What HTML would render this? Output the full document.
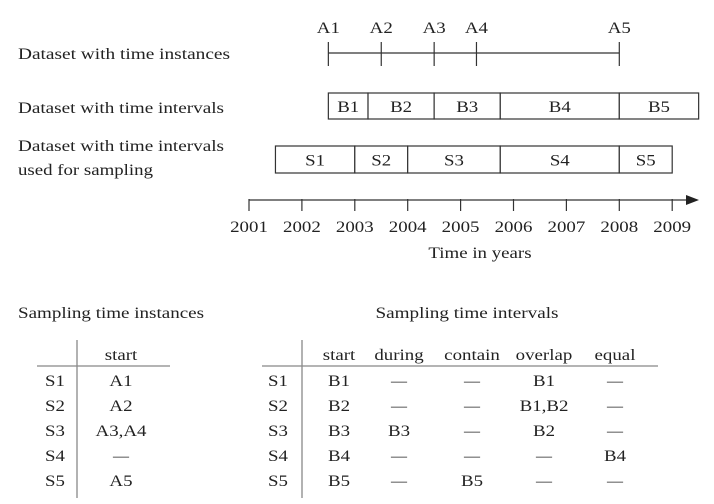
<!DOCTYPE html>
<html><head><meta charset="utf-8"><style>
body{margin:0;background:#fff}
svg{display:block}
text{font-family:"Liberation Serif",serif;font-size:16px;fill:#222}
</style></head><body>
<svg id="chart" width="714" height="504">
<g>
<text x="18" y="59" textLength="212" lengthAdjust="spacingAndGlyphs">Dataset with time instances</text>
<text x="18" y="113" textLength="206" lengthAdjust="spacingAndGlyphs">Dataset with time intervals</text>
<text x="18" y="151" textLength="206" lengthAdjust="spacingAndGlyphs">Dataset with time intervals</text>
<text x="18" y="175" textLength="135" lengthAdjust="spacingAndGlyphs">used for sampling</text>
</g>
<g id="marks"></g>
<g>
<text x="18" y="318" textLength="186" lengthAdjust="spacingAndGlyphs">Sampling time instances</text>
<text x="467" y="318" text-anchor="middle" textLength="183" lengthAdjust="spacingAndGlyphs">Sampling time intervals</text>
<line x1="77" y1="340" x2="77" y2="498" stroke="#888" stroke-width="1.3"/>
<line x1="37" y1="366" x2="170" y2="366" stroke="#888" stroke-width="1.3"/>
<line x1="302" y1="340" x2="302" y2="498" stroke="#888" stroke-width="1.3"/>
<line x1="262" y1="366" x2="658" y2="366" stroke="#888" stroke-width="1.3"/>
<g id="tablecells"></g>
</g>
</svg>
<script>
const years = [2001,2002,2003,2004,2005,2006,2007,2008,2009];
const instNames = ['A1','A2','A3','A4','A5'];
const instTimes = [2002.5,2003.5,2004.5,2005.3,2008];
const bNames = ['B1','B2','B3','B4','B5'];
const bBounds = [2002.5,2003.25,2004.5,2005.75,2008,2009.5];
const sNames = ['S1','S2','S3','S4','S5'];
const sBounds = [2001.5,2003,2004,2005.75,2008,2009];
const instStart = ['A1','A2','A3,A4','—','A5'];
const colHeads = ['start','during','contain','overlap','equal'];
const colStart = ['B1','B2','B3','B4','B5'];
const colDuring = ['—','—','B3','—','—'];
const colContain = ['—','—','—','—','B5'];
const colOverlap = ['B1','B1,B2','B2','—','—'];
const colEqual = ['—','—','—','B4','—'];

const NS='http://www.w3.org/2000/svg';
const X = y => 249 + (y-2001)*52.9;
function mk(tag, attrs, parent, txt){const e=document.createElementNS(NS,tag);for(const k in attrs)e.setAttribute(k,attrs[k]);if(txt!==undefined)e.textContent=txt;parent.appendChild(e);return e;}
const g=document.getElementById('marks');
let l=mk('line',{x1:X(instTimes[0]),y1:53,x2:X(instTimes[instTimes.length-1]),y2:53,stroke:'#333','stroke-width':1.2},g);


instTimes.forEach((t,i)=>{
  const tk=mk('line',{x1:X(t),y1:42,x2:X(t),y2:66,stroke:'#333','stroke-width':1.2},g);
  
  
  const tx=mk('text',{x:X(t),y:33,'text-anchor':'middle'},g,instNames[i]);
  
  
});
function boxes(names,bounds,top,h,prefix){
  names.forEach((n,i)=>{
    const r=mk('rect',{x:X(bounds[i]),y:top,width:X(bounds[i+1])-X(bounds[i]),height:h,fill:'#fff',stroke:'#333','stroke-width':1.2},g);
    
    
    const t=mk('text',{x:(X(bounds[i])+X(bounds[i+1]))/2,y:top+h/2+6,'text-anchor':'middle'},g,n);
    
    
  });
}
boxes(bNames,bBounds,93,26,'interval');
boxes(sNames,sBounds,146,27,'sampling');
const ax=mk('line',{x1:X(2001),y1:200,x2:690,y2:200,stroke:'#333','stroke-width':1.2},g);


const ar=mk('polygon',{points:'686,195 699,200 686,205',fill:'#222'},g);


years.forEach(y=>{
  const tk=mk('line',{x1:X(y),y1:199,x2:X(y),y2:211,stroke:'#333','stroke-width':1.2},g);
  
  
  const t=mk('text',{x:X(y),y:232,'text-anchor':'middle'},g,String(y));
  
  
});
const at=mk('text',{x:480,y:258,'text-anchor':'middle'},g,'Time in years');


const tc=document.getElementById('tablecells');
const rowY=[386,411,436,461,486];
const h1=mk('text',{x:121,y:360,'text-anchor':'middle'},tc,'start');


sNames.forEach((s,i)=>{
  const a=mk('text',{x:45,y:rowY[i]},tc,s);
  
  
  const b=mk('text',{x:121,y:rowY[i],'text-anchor':'middle'},tc,instStart[i]);
  
  
  const c=mk('text',{x:268,y:rowY[i]},tc,s);
  
  
});
const colX=[339,399,472,544,615];
const cols=[colStart,colDuring,colContain,colOverlap,colEqual];
colHeads.forEach((h,j)=>{
  const t=mk('text',{x:colX[j],y:360,'text-anchor':'middle'},tc,h);
  
  
  cols[j].forEach((v,i)=>{
    const c=mk('text',{x:colX[j],y:rowY[i],'text-anchor':'middle'},tc,v);
    
    
  });
});
// widen dynamic text to mimic the wider reference typeface
document.querySelectorAll('#marks text, #tablecells text').forEach(t=>{
  if(t.textContent==='—') return;
  const w=t.getComputedTextLength();
  t.setAttribute('textLength',(w*1.18).toFixed(1));
  t.setAttribute('lengthAdjust','spacingAndGlyphs');
});
</script>
</body></html>
